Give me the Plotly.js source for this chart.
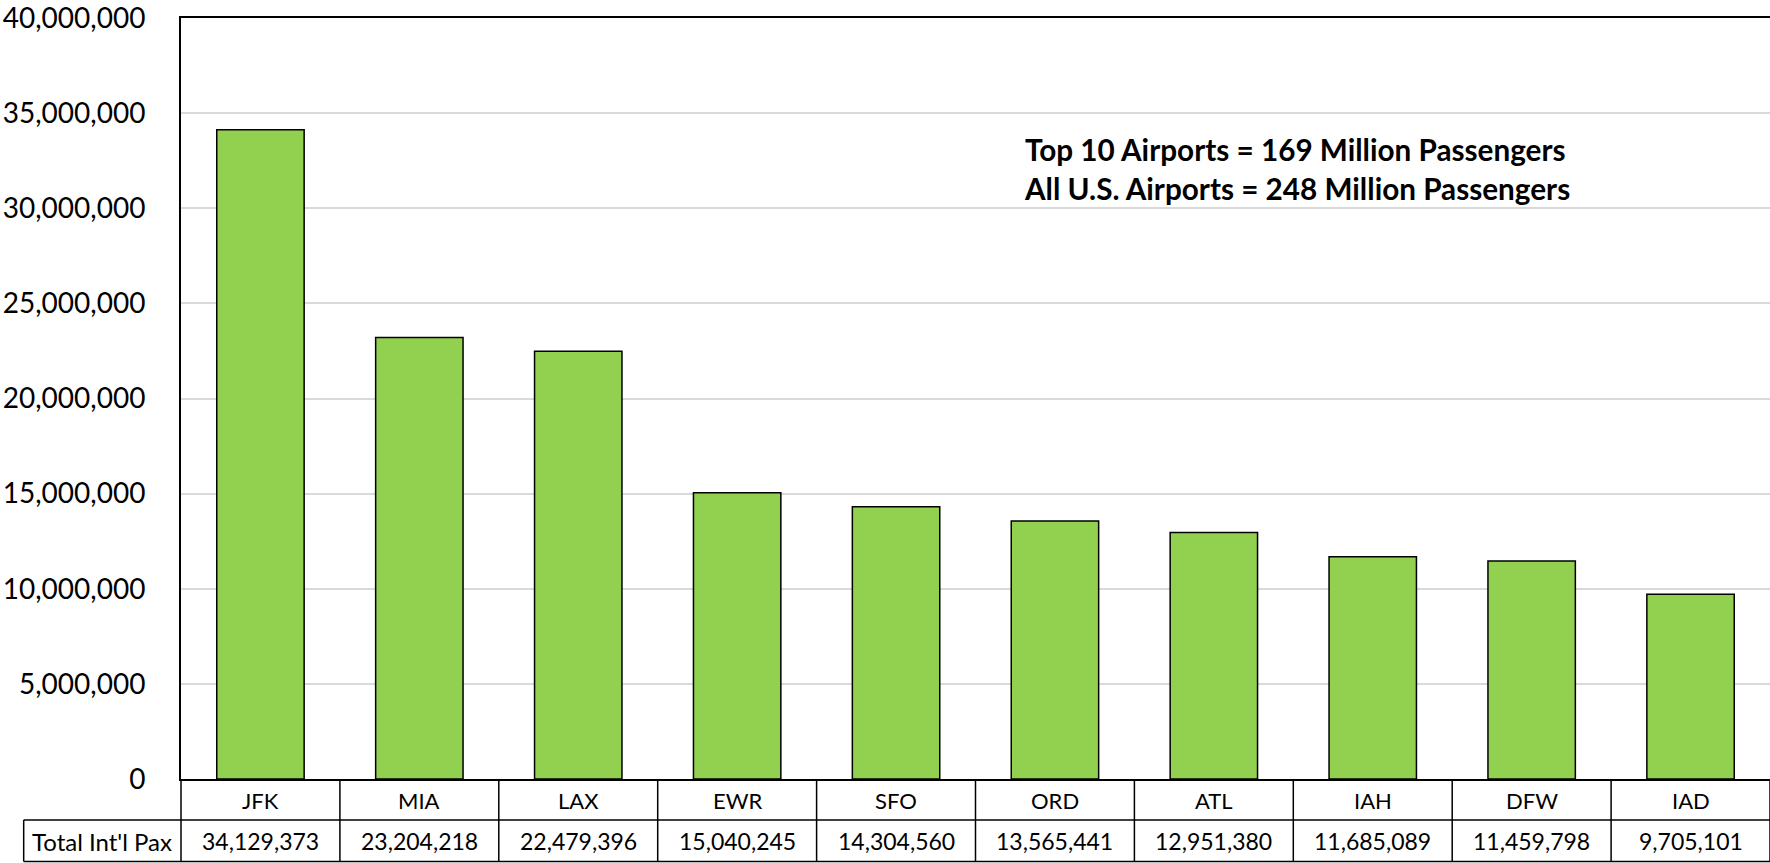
<!DOCTYPE html>
<html>
<head>
<meta charset="utf-8">
<script src="https://cdn.plot.ly/plotly-3.0.1.min.js"></script>
<style>
  html, body { margin: 0; padding: 0; background: #fff; }
  #chart { width: 1770px; height: 863px; }
</style>
</head>
<body>
<div id="chart"></div>
<script>
// airports ranked by international passengers
const airports = ['JFK', 'MIA', 'LAX', 'EWR', 'SFO', 'ORD', 'ATL', 'IAH', 'DFW', 'IAD'];
const passengers = [34129373, 23204218, 22479396, 15040245, 14304560, 13565441, 12951380, 11685089, 11459798, 9705101];
const rowLabel = "Total Int'l Pax";
const noteLines = ['Top 10 Airports = 169 Million Passengers', 'All U.S. Airports = 248 Million Passengers'];

const FONT = 'Lato, "Open Sans", sans-serif';
const n = airports.length;

// data table under the plot: y positions in paper units
const rowTop = -0.0539, rowBottom = -0.1084, labelLeft = -0.099;
const catY = -0.0276, valY = -0.0821;

const fmt = v => v.toLocaleString('en-US');

let bars = {
    x: airports,
    y: passengers,
    type: 'bar',
    marker: { color: '#92d050', line: { color: '#000', width: 1.5 } },
    hoverinfo: 'skip'
}

let shapes = []
// horizontal lines of the value row
shapes.push({ type: 'line', xref: 'paper', yref: 'paper', x0: labelLeft, x1: 1, y0: rowTop, y1: rowTop, line: { color: '#000', width: 1.5 } })
shapes.push({ type: 'line', xref: 'paper', yref: 'paper', x0: labelLeft, x1: 1, y0: rowBottom, y1: rowBottom, line: { color: '#000', width: 1.5 } })
shapes.push({ type: 'line', xref: 'paper', yref: 'paper', x0: labelLeft, x1: labelLeft, y0: rowTop, y1: rowBottom, line: { color: '#000', width: 1.5 } })
// column separators
for (let i = 0; i <= n; i++) {
    shapes.push({ type: 'line', xref: 'paper', yref: 'paper', x0: i / n, x1: i / n, y0: 0, y1: rowBottom, line: { color: '#000', width: 1.5 } })
}

let annotations = []
airports.forEach((a, i) => {
    annotations.push({ x: a, xref: 'x', y: catY, yref: 'paper', text: a, showarrow: false, xanchor: 'center', yanchor: 'middle', font: { family: FONT, size: 22, color: '#000' } })
    annotations.push({ x: a, xref: 'x', y: valY, yref: 'paper', text: fmt(passengers[i]), showarrow: false, xanchor: 'center', yanchor: 'middle', font: { family: FONT, size: 23, color: '#000' } })
})
annotations.push({ x: labelLeft / 2, xref: 'paper', y: valY, yref: 'paper', text: rowLabel, showarrow: false, xanchor: 'center', yanchor: 'middle', font: { family: FONT, size: 24, color: '#000' } })
annotations.push({
    x: 0.529, xref: 'paper', y: 0.802, yref: 'paper',
    text: noteLines.join('<br>'), align: 'left', showarrow: false,
    xanchor: 'left', yanchor: 'middle',
    font: { family: FONT, size: 29.7, color: '#000', weight: 'bold' }
})

let layout = {
    width: 1770,
    height: 863,
    margin: { l: 181, r: 0, t: 18, b: 84 },
    paper_bgcolor: '#fff',
    plot_bgcolor: '#fff',
    showlegend: false,
    bargap: 0.45,
    font: { family: FONT, color: '#000' },
    xaxis: {
        range: [-0.5, n - 0.5],
        showticklabels: false,
        ticks: '',
        showgrid: false,
        showline: true,
        linecolor: '#000',
        linewidth: 2,
        mirror: true,
        zeroline: false,
        fixedrange: true
    },
    yaxis: {
        range: [0, 40000000],
        dtick: 5000000,
        tickformat: ',d',
        ticks: 'outside',
        ticklen: 28,
        tickcolor: 'rgba(0,0,0,0)',
        tickfont: { family: FONT, size: 28, color: '#000' },
        ticklabeloverflow: 'allow',
        showgrid: true,
        gridcolor: '#d9d9d9',
        gridwidth: 2,
        showline: true,
        linecolor: '#000',
        linewidth: 2,
        mirror: true,
        zeroline: false,
        fixedrange: true
    },
    shapes: shapes,
    annotations: annotations
}

Plotly.newPlot('chart', [bars], layout, { displayModeBar: false, staticPlot: true })
</script>
</body>
</html>
